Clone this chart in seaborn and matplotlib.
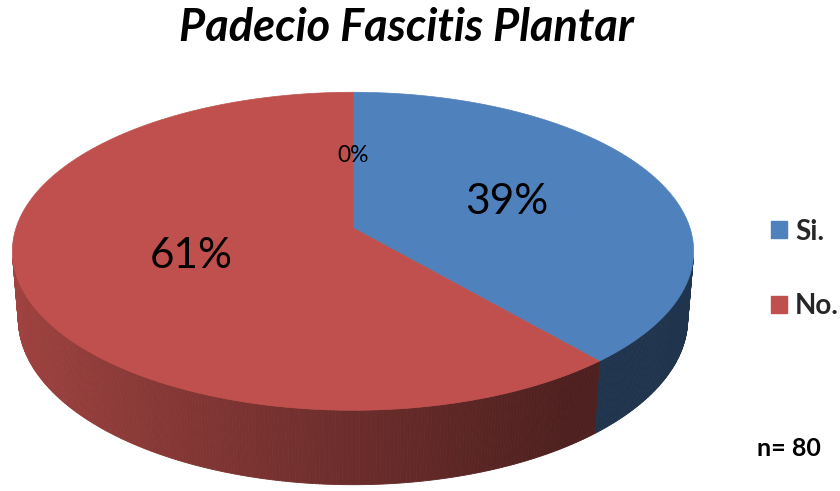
import numpy as np
import matplotlib
matplotlib.use("Agg")
import matplotlib.pyplot as plt
from matplotlib.patches import Patch, Polygon
import seaborn as sns

# ---- data ----
categories = ["Si.", "No.", ""]
counts = [31, 49, 0]
n_total = 80
title = "Padecio Fascitis Plantar"
slice_colors = ["#4F81BD", "#C0504D", "#9BBB59"]

# ---- style / 3D projection settings ----
W, H = 840, 491
CX, CY = 353.0, 228.0      # projected pie centre (pixels)
FOCAL = 2042.0             # perspective focal length
DIST = 6.06                # camera distance (in pie radii)
ELEV = np.radians(27.5)    # camera elevation
THICK = 0.2275             # pie thickness (in pie radii)
LABEL_R = 0.5

sns.set_theme(style="white")
plt.rcParams["font.family"] = ["Lato", "DejaVu Sans"]

s_e, c_e = np.sin(ELEV), np.cos(ELEV)


def project(theta_deg, r, y):
    """theta measured clockwise from the back of the pie, in degrees."""
    t = np.radians(theta_deg)
    x = r * np.sin(t)
    z = -r * np.cos(t)
    v = z * s_e - y * c_e
    d = DIST - z * c_e - y * s_e
    return CX + FOCAL * x / d, CY + FOCAL * v / d


def shade(hex_color, theta_deg):
    rgb = np.array(matplotlib.colors.to_rgb(hex_color))
    f = max(0.405, 0.56 - 0.28 * np.sin(np.radians(theta_deg)))
    return tuple(np.clip(rgb * f, 0, 1))


fig = plt.figure(figsize=(W / 100, H / 100), dpi=100)
ax = fig.add_axes([0, 0, 1, 1])
ax.set_xlim(0, W)
ax.set_ylim(H, 0)
ax.axis("off")

total = float(sum(counts))
fracs = [c / total for c in counts]
starts = np.concatenate([[0.0], np.cumsum(fracs)[:-1]]) * 360.0
ends = np.cumsum(fracs) * 360.0

# visible portion of the side wall
theta_vis = np.degrees(np.arccos(-1.0 / (DIST * c_e)))
vis_lo, vis_hi = theta_vis, 360.0 - theta_vis

# side walls
for a0, a1, col in zip(starts, ends, slice_colors):
    lo, hi = max(a0, vis_lo), min(a1, vis_hi)
    if hi <= lo:
        continue
    steps = np.arange(lo, hi, 0.5)
    steps = np.append(steps, hi)
    for t0, t1 in zip(steps[:-1], steps[1:]):
        p0 = project(t0, 1, 0)
        p1 = project(t1, 1, 0)
        q1 = project(t1, 1, -THICK)
        q0 = project(t0, 1, -THICK)
        c = shade(col, 0.5 * (t0 + t1))
        ax.add_patch(Polygon([p0, p1, q1, q0], closed=True, facecolor=c,
                             edgecolor=c, linewidth=0.6, antialiased=True))

# top faces
for a0, a1, col in zip(starts, ends, slice_colors):
    if a1 - a0 <= 0:
        continue
    ts = np.linspace(a0, a1, 300)
    xs, ys = project(ts, 1, 0)
    cx0, cy0 = project(0, 0, 0)
    pts = np.column_stack([np.r_[cx0, xs], np.r_[cy0, ys]])
    ax.add_patch(Polygon(pts, closed=True, facecolor=col, edgecolor=col,
                         linewidth=0.5))

# percentage labels
for a0, a1, cnt in zip(starts, ends, counts):
    pct = int(round(cnt / total * 100))
    lx, ly = project(0.5 * (a0 + a1), LABEL_R, 0)
    size = 30.5 if cnt > 0 else 16.5
    ax.text(lx, ly, f"{pct}%", ha="center", va="center", fontsize=size,
            color="black")

# title
ax.text(406, 28, title, ha="center", va="center", fontsize=32.5,
        fontweight="bold", fontstyle="italic", color="black")

# legend
handles = [Patch(facecolor=c, edgecolor=c) for c, name in
           zip(slice_colors, categories) if name]
labels = [name for name in categories if name]
leg = fig.legend(handles, labels, loc="center left",
                 bbox_to_anchor=(771 / W, 1 - 269 / H), frameon=False,
                 prop={"weight": "bold", "size": 20},
                 handlelength=0.56, handleheight=0.56, handletextpad=0.3,
                 labelspacing=1.75, borderpad=0, borderaxespad=0)

# sample size note
ax.text(789, 448, f"n= {n_total}", ha="center", va="center", fontsize=18,
        fontweight="bold", color="black")

fig.savefig("out.png", dpi=100)
